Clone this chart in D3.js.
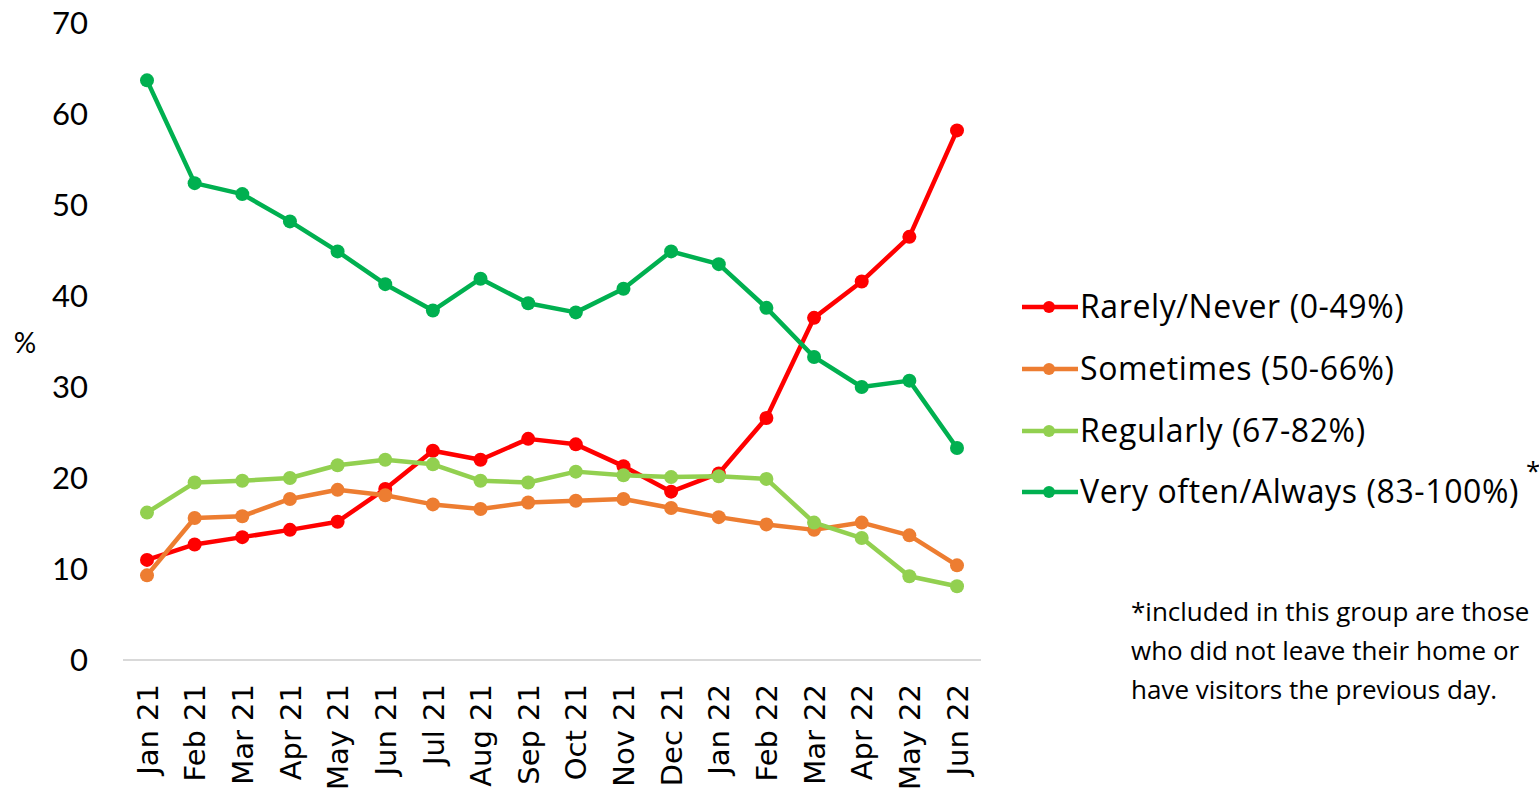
<!DOCTYPE html>
<html>
<head>
<meta charset="utf-8">
<script src="https://cdn.jsdelivr.net/npm/d3@7"></script>
<style>
  html, body { margin: 0; padding: 0; background: #fff; overflow: hidden; }
  svg { display: block; }
</style>
</head>
<body>
<svg id="chart" width="1539" height="796"></svg>
<script>
// Monthly survey shares (%) by how often people keep their distance
const months = ["Jan 21","Feb 21","Mar 21","Apr 21","May 21","Jun 21","Jul 21","Aug 21","Sep 21",
  "Oct 21","Nov 21","Dec 21","Jan 22","Feb 22","Mar 22","Apr 22","May 22","Jun 22"];
const rarelyNever = [11.0,12.7,13.5,14.3,15.2,18.8,23.0,22.0,24.3,23.7,21.3,18.5,20.5,26.6,37.6,41.6,46.5,58.2];
const sometimes   = [9.3,15.6,15.8,17.7,18.7,18.1,17.1,16.6,17.3,17.5,17.7,16.7,15.7,14.9,14.3,15.1,13.7,10.4];
const regularly   = [16.2,19.5,19.7,20.0,21.4,22.0,21.5,19.7,19.5,20.7,20.3,20.1,20.2,19.9,15.1,13.4,9.2,8.1];
const veryOften   = [63.7,52.4,51.2,48.2,44.9,41.3,38.4,41.9,39.2,38.2,40.8,44.9,43.5,38.7,33.3,30.0,30.7,23.3];
const yTicks = [0,10,20,30,40,50,60,70];
const seriesNames = ["Rarely/Never (0-49%)","Sometimes (50-66%)","Regularly (67-82%)","Very often/Always (83-100%)"];
const seriesColors = ["#FF0000","#ED7D31","#92D050","#00B050"];
const footnote = ["*included in this group are those",
                  "who did not leave their home or",
                  "have visitors the previous day."];

const series = [rarelyNever, sometimes, regularly, veryOften].map((values, i) => ({
  name: seriesNames[i], color: seriesColors[i], values
}));

const svg = d3.select("#chart");
const labelFont = "Lato, 'Open Sans', sans-serif";
const textFont = "'Open Sans', Lato, sans-serif";

const x = d3.scalePoint().domain(months).range([147, 957]);
const y = d3.scaleLinear().domain([0, 70]).range([660, 23]);

// Baseline
svg.append("line")
  .attr("x1", 123).attr("x2", 981)
  .attr("y1", y(0)).attr("y2", y(0))
  .attr("stroke", "#d9d9d9").attr("stroke-width", 2);

// Y axis labels
const yAxis = d3.axisLeft(y).tickValues(yTicks).tickSize(0).tickPadding(0);
const gy = svg.append("g").attr("transform", "translate(88,0)").call(yAxis);
gy.select(".domain").remove();
gy.selectAll("text")
  .attr("font-family", labelFont).attr("font-size", 31)
  .attr("fill", "#000").attr("dy", "0.35em");

svg.append("text")
  .attr("x", 25).attr("y", 343).attr("dy", "0.35em")
  .attr("text-anchor", "middle")
  .attr("font-family", labelFont).attr("font-size", 28)
  .text("%");

// X axis labels, rotated
const xAxis = d3.axisBottom(x).tickSize(0).tickPadding(0);
const gx = svg.append("g").attr("transform", "translate(0,684)").call(xAxis);
gx.select(".domain").remove();
gx.selectAll("text")
  .attr("font-family", "'DejaVu Sans', sans-serif").attr("font-size", 29)
  .attr("fill", "#000")
  .attr("text-anchor", "end")
  .attr("transform", "rotate(-90)")
  .attr("x", 0).attr("y", 0).attr("dy", "0.35em");

// Lines and markers
const line = d3.line().x((d, i) => x(months[i])).y(d => y(d));
const gs = svg.selectAll(".series").data(series).join("g").attr("class", "series");
gs.append("path")
  .attr("d", d => line(d.values))
  .attr("fill", "none")
  .attr("stroke", d => d.color)
  .attr("stroke-width", 4.5)
  .attr("stroke-linejoin", "round");
gs.each(function(s) {
  d3.select(this).selectAll("circle").data(s.values).join("circle")
    .attr("cx", (d, i) => x(months[i]))
    .attr("cy", d => y(d))
    .attr("r", 7)
    .attr("fill", s.color);
});

// Legend
const legendY = [307, 369, 431, 492];
const lg = svg.selectAll(".legend").data(series).join("g")
  .attr("class", "legend")
  .attr("transform", (d, i) => `translate(1022,${legendY[i]})`);
lg.append("line").attr("x1", 0).attr("x2", 56)
  .attr("stroke", d => d.color).attr("stroke-width", 4.5);
lg.append("circle").attr("cx", 27).attr("r", 6).attr("fill", d => d.color);
lg.append("text")
  .attr("x", 58).attr("dy", "0.35em")
  .attr("font-family", textFont).attr("font-size", 32)
  .attr("letter-spacing", 0.6)
  .text(d => d.name);

svg.append("text")
  .attr("x", 1526).attr("y", 480)
  .attr("font-family", textFont).attr("font-size", 26)
  .text("*");

// Footnote
svg.append("g").selectAll("text").data(footnote).join("text")
  .attr("x", 1131).attr("y", (d, i) => 612 + i * 39).attr("dy", "0.35em")
  .attr("font-family", textFont).attr("font-size", 26)
  .text(d => d);
</script>
</body>
</html>
